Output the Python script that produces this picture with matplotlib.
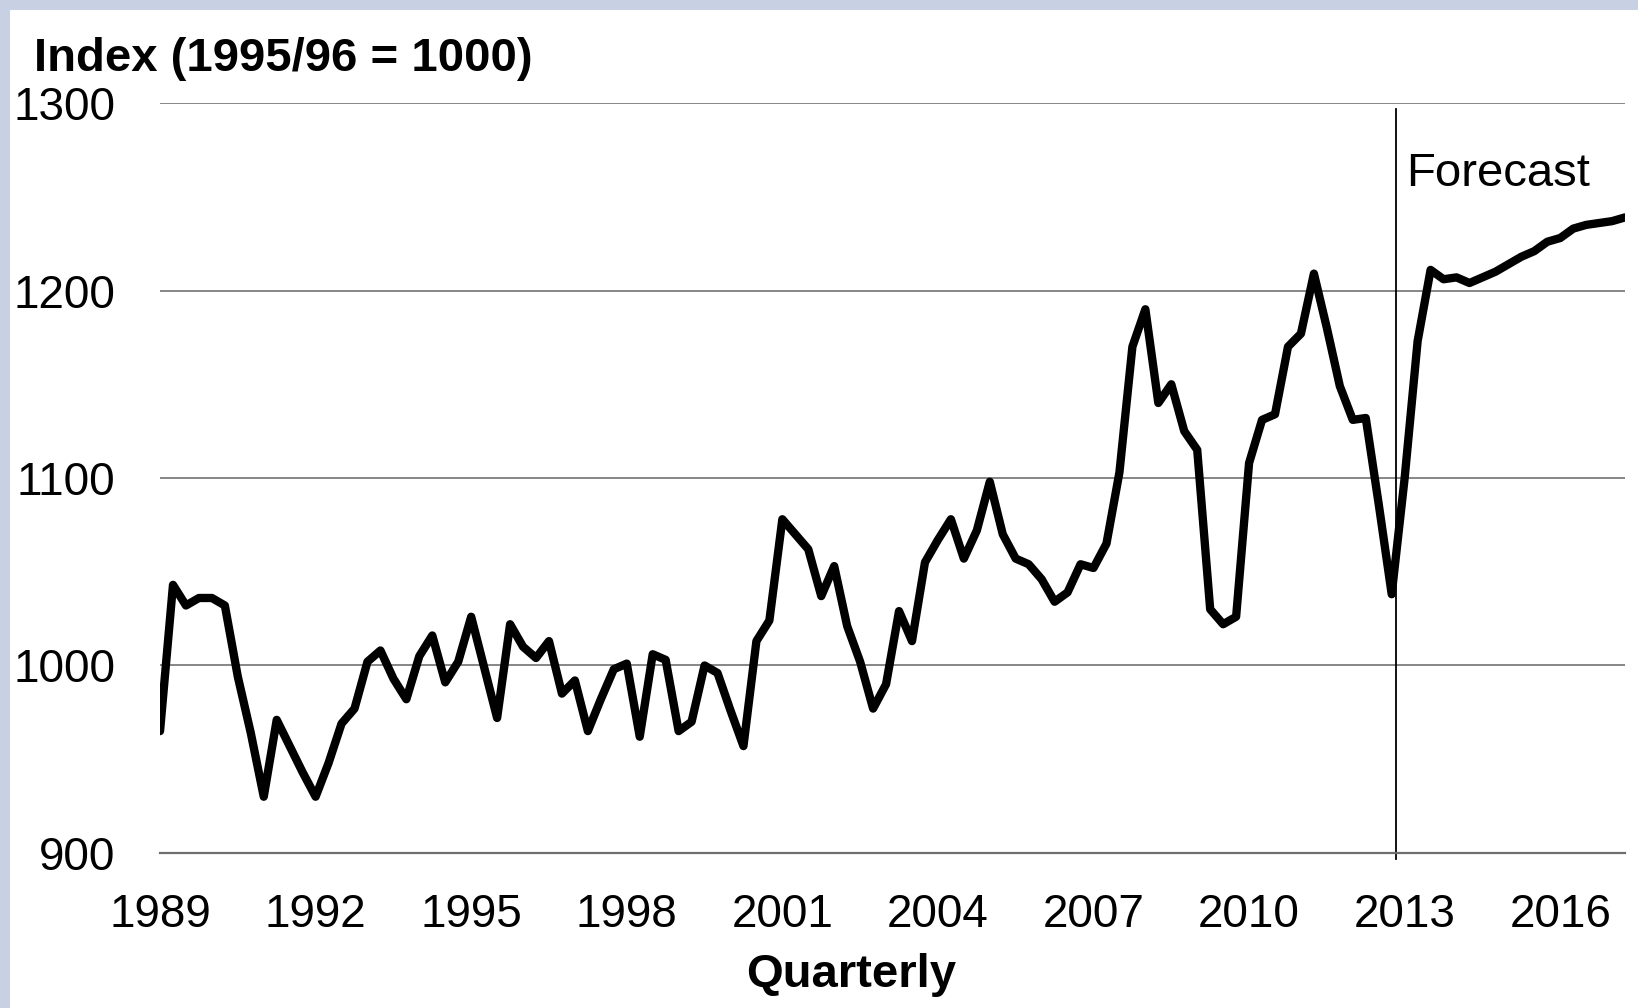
import numpy as np
import matplotlib
matplotlib.use("Agg")
import matplotlib.pyplot as plt
from matplotlib.patches import Rectangle

plt.rcParams["font.family"] = ["Liberation Sans", "DejaVu Sans"]

# Quarterly index values, 1989 Q1 onwards (1995/96 = 1000)
index_values = [
    965, 1043, 1032, 1036, 1036, 1032, 994, 964,
    930, 971, 957, 943, 930, 948, 969, 977,
    1002, 1008, 993, 982, 1005, 1016, 991, 1002,
    1026, 999, 972, 1022, 1010, 1004, 1013, 985,
    992, 965, 982, 998, 1001, 962, 1006, 1003,
    965, 970, 1000, 996, 976, 957, 1013, 1024,
    1078, 1070, 1062, 1037, 1053, 1021, 1002, 977,
    990, 1029, 1013, 1055, 1067, 1078, 1057, 1072,
    1098, 1070, 1057, 1054, 1046, 1034, 1039, 1054,
    1052, 1065, 1103, 1170, 1190, 1140, 1150, 1125,
    1115, 1030, 1022, 1026, 1108, 1131, 1134, 1170,
    1177, 1209, 1180, 1149, 1131, 1132, 1086, 1038,
    1100, 1173, 1211, 1206, 1207, 1204, 1207, 1210,
    1214, 1218, 1221, 1226, 1228, 1233, 1235, 1236,
    1237, 1239,
]
year_labels = ["1989", "1992", "1995", "1998", "2001",
               "2004", "2007", "2010", "2013", "2016"]
y_ticks = [900, 1000, 1100, 1200, 1300]
forecast_start = 95.3  # boundary between last actual and first forecast quarter

quarters = np.arange(len(index_values))

fig = plt.figure(figsize=(16.38, 10.08), dpi=100)
fig.patch.set_facecolor("white")

# light slate border strips along the top and left edges
frame_col = "#c7d1e3"
fig.patches.append(Rectangle((0, 0.99), 1, 0.01, transform=fig.transFigure,
                             facecolor=frame_col, edgecolor="none", zorder=0))
fig.patches.append(Rectangle((0, 0), 0.006, 1, transform=fig.transFigure,
                             facecolor=frame_col, edgecolor="none", zorder=0))

ax = fig.add_axes([0.0977, 0.1538, 0.9921 - 0.0977, 0.8978 - 0.1538])
ax.set_facecolor("white")

ax.plot(quarters, index_values, color="black", lw=6.0,
        solid_joinstyle="round", solid_capstyle="round", zorder=3)

ax.set_xlim(0, len(index_values) - 1)
ax.set_ylim(900, 1300)
ax.set_yticks(y_ticks)
ax.set_yticklabels([str(v) for v in y_ticks])
ax.set_xticks(np.arange(0, len(year_labels) * 12, 12))
ax.set_xticklabels(year_labels)

ax.grid(axis="y", color="#868686", lw=1.4, zorder=1)
ax.grid(axis="x", visible=False)
for side in ["top", "right", "left"]:
    ax.spines[side].set_visible(False)
ax.spines["bottom"].set_color("#6e6e6e")
ax.spines["bottom"].set_linewidth(1.6)

ax.tick_params(axis="both", length=0, labelsize=33, colors="black")
ax.tick_params(axis="y", pad=32)
ax.tick_params(axis="x", pad=29)

# forecast divider
ax.plot([forecast_start, forecast_start], [897, 1297], color="black",
        lw=1.3, clip_on=False, zorder=2)
ax.text(forecast_start + 0.8, 1256, "Forecast", fontsize=34,
        ha="left", va="baseline")

fig.text(0.021, 1 - 71 / 1008, "Index (1995/96 = 1000)", fontsize=34,
         fontweight="bold", ha="left", va="baseline")
fig.text(851 / 1638, 1 - 987 / 1008, "Quarterly", fontsize=34,
         fontweight="bold", ha="center", va="baseline")

fig.savefig("out.png", dpi=100, facecolor="white")
